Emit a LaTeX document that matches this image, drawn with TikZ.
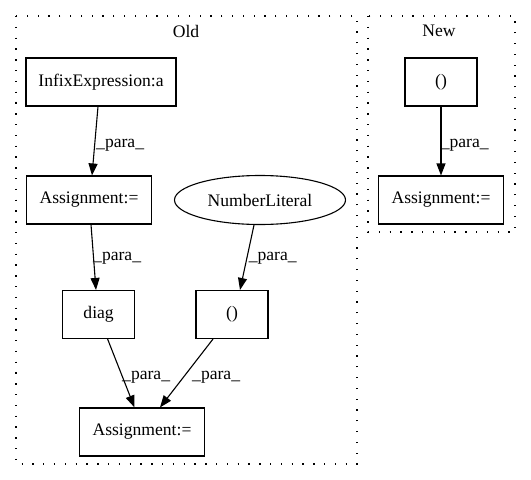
\documentclass[tikz,border=0pt]{standalone}
\usepackage{fontspec}
\setmainfont{Liberation Serif}
\usetikzlibrary{arrows.meta,shapes.geometric}
\tikzset{
  box/.style={draw, line width=1.1pt, rectangle, inner sep=0pt, minimum height=48pt, font=\fontsize{17.6}{20}\selectfont},
  ell/.style={draw, line width=1.1pt, ellipse, inner sep=0pt, minimum width=171pt, minimum height=49pt, font=\fontsize{17.6}{20}\selectfont},
  cluster/.style={draw, line width=1.2pt, dash pattern=on 1.3pt off 9.5pt},
  ctitle/.style={font=\fontsize{17.6}{20}\selectfont},
  edge/.style={draw, line width=1.1pt, -{Triangle[length=12pt,width=9pt]}},
  elab/.style={anchor=base west, inner sep=0pt, font=\fontsize{17.6}{20}\selectfont}
}
\begin{document}
\begin{tikzpicture}[x=1pt,y=-1pt]
\useasboundingbox (0,0) rectangle (531,480);
% clusters
\draw[cluster] (16,16) rectangle (357,464);
\draw[cluster] (368,16) rectangle (515,232);
\node[ctitle] (oldt) at (186,31) {Old};
\node[ctitle] (newt) at (439,31) {New};
% old nodes
\node[box, minimum width=150pt] (infix) at (101,82) {InfixExpression:a};
\node[box, minimum width=125pt] (asg1) at (89,200) {Assignment:=};
\node[ell] (num) at (260,200) {NumberLiteral};
\node[box, minimum width=72pt] (diag) at (98.6,314.5) {diag};
\node[box, minimum width=72pt] (opar) at (232,314.5) {()};
\node[box, minimum width=125pt] (asg2) at (142,432) {Assignment:=};
% new nodes
\node[box, minimum width=72pt] (npar) at (441,82) {()};
\node[box, minimum width=125pt] (nasg) at (441,200) {Assignment:=};
% edges
\draw[edge] ([xshift=-3pt]infix.south) -- ([xshift=3pt]asg1.north);
\draw[edge] ([xshift=2pt]asg1.south) -- ([xshift=-2.6pt]diag.north);
\draw[edge] ([xshift=-6pt]num.south) -- ([xshift=8pt]opar.north);
\draw[edge] ([xshift=9pt]diag.south) -- ([xshift=-7.5pt]asg2.north);
\draw[edge] ([xshift=-19pt]opar.south) -- ([xshift=18pt]asg2.north);
\draw[edge] (npar.south) -- (nasg.north);
% edge labels
\node[elab] (l1) at (96,147) {\_para\_};
\node[elab] (l2) at (93,260) {\_para\_};
\node[elab] (l3) at (248.6,260) {\_para\_};
\node[elab] (l4) at (122,379) {\_para\_};
\node[elab] (l5) at (192,379) {\_para\_};
\node[elab] (l6) at (440.6,147) {\_para\_};
\end{tikzpicture}
\end{document}
